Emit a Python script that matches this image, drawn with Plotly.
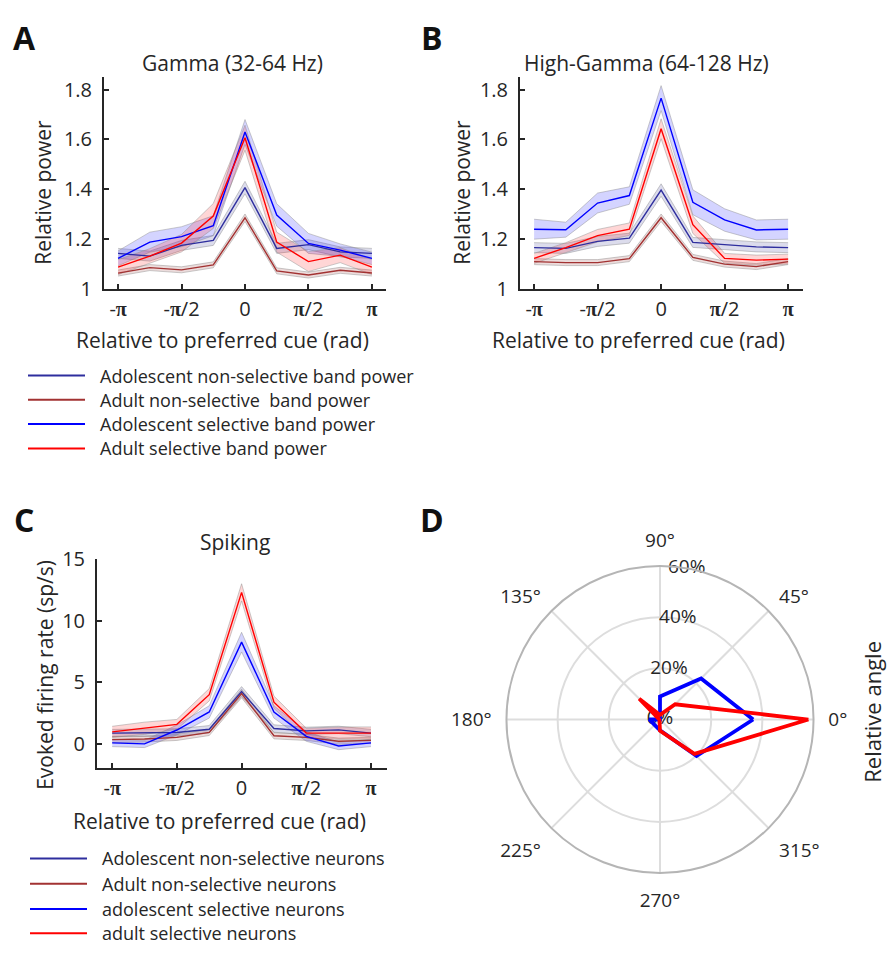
import numpy as np
import plotly.graph_objects as go

W, H = 893, 957
FONT = "Open Sans"
TXT = "#262626"

# ---------------- data ----------------
angles = [-np.pi, -3*np.pi/4, -np.pi/2, -np.pi/4, 0, np.pi/4, np.pi/2, 3*np.pi/4, np.pi]
tick_vals = [-np.pi, -np.pi/2, 0, np.pi/2, np.pi]
PI = '<b><span style="font-family:Liberation Serif;font-weight:bold">π</span></b>'
tick_text = ["-" + PI, "-" + PI + "/2", "0", PI + "/2", PI]

series_names_band = ["Adolescent non-selective band power", "Adult non-selective  band power",
                     "Adolescent selective band power", "Adult selective band power"]
series_names_spk = ["Adolescent non-selective neurons", "Adult non-selective neurons",
                    "adolescent selective neurons", "adult selective neurons"]
line_colors = ["#2e2e9e", "#a23232", "#0000ff", "#ff0000"]
band_colors = ["rgba(60,60,150,0.18)", "rgba(150,60,60,0.18)", "rgba(0,0,255,0.17)", "rgba(255,0,0,0.16)"]

# Panel A: Gamma (32-64 Hz)
gamma_adol_nonsel = [1.143, 1.132, 1.175, 1.195, 1.407, 1.163, 1.178, 1.149, 1.143]
gamma_adult_nonsel = [1.064, 1.086, 1.077, 1.097, 1.286, 1.073, 1.056, 1.075, 1.064]
gamma_adol_sel = [1.123, 1.188, 1.210, 1.254, 1.630, 1.297, 1.183, 1.156, 1.123]
gamma_adult_sel = [1.088, 1.132, 1.184, 1.293, 1.607, 1.188, 1.110, 1.136, 1.088]
gamma_adol_nonsel_err = [0.02, 0.02, 0.02, 0.02, 0.025, 0.02, 0.02, 0.02, 0.02]
gamma_adult_nonsel_err = [0.012, 0.012, 0.012, 0.012, 0.015, 0.012, 0.012, 0.012, 0.012]
gamma_adol_sel_err = [0.03, 0.04, 0.04, 0.04, 0.05, 0.045, 0.04, 0.025, 0.025]
gamma_adult_sel_err = [0.03, 0.03, 0.035, 0.05, 0.05, 0.04, 0.04, 0.03, 0.03]

# Panel B: High-Gamma (64-128 Hz)
hg_adol_nonsel = [1.166, 1.163, 1.191, 1.204, 1.397, 1.187, 1.178, 1.169, 1.166]
hg_adult_nonsel = [1.110, 1.106, 1.106, 1.122, 1.286, 1.127, 1.100, 1.090, 1.110]
hg_adol_sel = [1.240, 1.238, 1.345, 1.375, 1.766, 1.348, 1.277, 1.237, 1.240]
hg_adult_sel = [1.123, 1.166, 1.214, 1.240, 1.643, 1.258, 1.123, 1.116, 1.120]
hg_adol_nonsel_err = [0.02, 0.02, 0.02, 0.02, 0.025, 0.02, 0.02, 0.02, 0.02]
hg_adult_nonsel_err = [0.012, 0.012, 0.012, 0.012, 0.015, 0.012, 0.012, 0.012, 0.012]
hg_adol_sel_err = [0.04, 0.03, 0.04, 0.035, 0.05, 0.05, 0.045, 0.04, 0.04]
hg_adult_sel_err = [0.02, 0.02, 0.025, 0.025, 0.04, 0.035, 0.02, 0.02, 0.02]

# Panel C: Spiking
spk_adol_nonsel = [0.85, 0.90, 0.90, 1.16, 4.23, 1.22, 1.03, 1.11, 0.85]
spk_adult_nonsel = [0.32, 0.37, 0.50, 0.90, 4.07, 0.63, 0.50, 0.19, 0.26]
spk_adol_sel = [0.05, -0.03, 1.10, 2.57, 8.25, 2.57, 0.58, -0.20, 0.05]
spk_adult_sel = [0.95, 1.24, 1.56, 3.97, 12.30, 3.36, 0.85, 0.85, 0.85]
spk_adol_nonsel_err = [0.3, 0.3, 0.3, 0.3, 0.4, 0.3, 0.3, 0.3, 0.3]
spk_adult_nonsel_err = [0.25, 0.25, 0.25, 0.25, 0.35, 0.25, 0.25, 0.25, 0.25]
spk_adol_sel_err = [0.3, 0.3, 0.4, 0.5, 0.8, 0.5, 0.4, 0.3, 0.3]
spk_adult_sel_err = [0.45, 0.5, 0.4, 0.5, 0.7, 0.5, 0.4, 0.5, 0.5]

# Panel D: polar distribution of preferred angle (%)
polar_theta = [0, 45, 90, 135, 180, 225, 270, 315]
polar_adol = [36.4, 22.7, 9.0, 0.0, 4.2, 3.0, 4.2, 20.2]
polar_adult = [58.0, 8.4, 1.8, 11.5, 0.3, 0.3, 4.4, 19.0]
polar_tick_vals = [0, 20, 40, 60]
polar_label_angle = 80

# ---------------- helpers ----------------
def xd(a, b):
    return [a / W, b / W]

def yd(top, bottom):
    return [1 - bottom / H, 1 - top / H]

fig = go.Figure()

def add_panel(xa, ya, means, errs):
    for m, e, bc in zip(means, errs, band_colors):
        up = [v + d for v, d in zip(m, e)]
        lo = [v - d for v, d in zip(m, e)]
        fig.add_trace(go.Scatter(x=angles, y=up, mode="lines", xaxis=xa, yaxis=ya,
                                 line=dict(color="rgba(140,140,140,0.45)", width=1),
                                 showlegend=False, hoverinfo="skip"))
        fig.add_trace(go.Scatter(x=angles, y=lo, mode="lines", xaxis=xa, yaxis=ya,
                                 line=dict(color="rgba(140,140,140,0.45)", width=1),
                                 fill="tonexty", fillcolor=bc,
                                 showlegend=False, hoverinfo="skip"))
    for m, lc in zip(means, line_colors):
        fig.add_trace(go.Scatter(x=angles, y=m, mode="lines", xaxis=xa, yaxis=ya,
                                 line=dict(color=lc, width=1.4), showlegend=False))

add_panel("x", "y",
          [gamma_adol_nonsel, gamma_adult_nonsel, gamma_adol_sel, gamma_adult_sel],
          [gamma_adol_nonsel_err, gamma_adult_nonsel_err, gamma_adol_sel_err, gamma_adult_sel_err])
add_panel("x2", "y2",
          [hg_adol_nonsel, hg_adult_nonsel, hg_adol_sel, hg_adult_sel],
          [hg_adol_nonsel_err, hg_adult_nonsel_err, hg_adol_sel_err, hg_adult_sel_err])
add_panel("x3", "y3",
          [spk_adol_nonsel, spk_adult_nonsel, spk_adol_sel, spk_adult_sel],
          [spk_adol_nonsel_err, spk_adult_nonsel_err, spk_adol_sel_err, spk_adult_sel_err])

# radial tick labels (placed at their radii along the 80 degree direction), under the lines
fig.add_trace(go.Scatterpolar(r=polar_tick_vals, theta=[polar_label_angle] * len(polar_tick_vals),
                              mode="text", text=[f"{v}%" for v in polar_tick_vals],
                              textposition="middle center", cliponaxis=False,
                              textfont=dict(size=19, color=TXT, family=FONT),
                              subplot="polar", showlegend=False, hoverinfo="skip"))
fig.add_trace(go.Scatterpolar(r=polar_adol + polar_adol[:1], theta=polar_theta + polar_theta[:1],
                              mode="lines", line=dict(color="#0000ff", width=3.8),
                              subplot="polar", showlegend=False))
fig.add_trace(go.Scatterpolar(r=polar_adult + polar_adult[:1], theta=polar_theta + polar_theta[:1],
                              mode="lines", line=dict(color="#ff0000", width=3.8),
                              subplot="polar", showlegend=False))

# ---------------- axes ----------------
TICK_SIZE = 20
TITLE_SIZE = 21

def xaxis_style(dom, rng, anchor):
    return dict(domain=dom, range=rng, anchor=anchor, tickmode="array", tickvals=tick_vals, ticktext=tick_text,
                showline=True, linecolor=TXT, linewidth=2, ticks="inside", ticklen=5,
                tickwidth=1.5, tickcolor=TXT, showgrid=False, zeroline=False,
                tickfont=dict(size=TICK_SIZE, color=TXT, family=FONT), ticklabelstandoff=1)

def yaxis_style(dom, rng, tv, tt, anchor):
    return dict(domain=dom, range=rng, anchor=anchor, tickmode="array", tickvals=tv, ticktext=tt,
                showline=True, linecolor=TXT, linewidth=2, ticks="inside", ticklen=5,
                tickwidth=1.5, tickcolor=TXT, showgrid=False, zeroline=False,
                tickfont=dict(size=TICK_SIZE, color=TXT, family=FONT), ticklabelstandoff=6)

power_ticks = [1, 1.2, 1.4, 1.6, 1.8]
power_ticktext = ["1", "1.2", "1.4", "1.6", "1.8"]
rate_ticks = [0, 5, 10, 15]

fig.update_layout(
    xaxis=xaxis_style(xd(104, 386), [-3.49, 3.49], "y"),
    yaxis=yaxis_style(yd(65, 283), [1, 1.85], power_ticks, power_ticktext, "x"),
    xaxis2=xaxis_style(xd(520, 803), [-3.49, 3.51], "y2"),
    yaxis2=yaxis_style(yd(65, 283), [1, 1.85], power_ticks, power_ticktext, "x2"),
    xaxis3=xaxis_style(xd(97, 387), [-3.51, 3.53], "y3"),
    yaxis3=yaxis_style(yd(561, 776), [-2, 15], rate_ticks, [str(v) for v in rate_ticks], "x3"),
)

fig.update_layout(
    polar=dict(
        domain=dict(x=xd(502, 818), y=yd(568, 884)),
        bgcolor="white",
        angularaxis=dict(rotation=0, direction="counterclockwise", tickmode="array",
                         tickvals=polar_theta, ticktext=[f"{t}°" for t in polar_theta],
                         showline=True, linecolor="#b5b5b5", linewidth=2,
                         gridcolor="#dddddd", gridwidth=1.5, ticks="outside", ticklen=10,
                         tickcolor="rgba(0,0,0,0)",
                         tickfont=dict(size=19, color=TXT, family=FONT)),
        radialaxis=dict(range=[0, 60], tickmode="array", tickvals=polar_tick_vals,
                        showticklabels=False, angle=polar_label_angle,
                        showline=False, gridcolor="#dddddd", gridwidth=1.5, ticks=""),
    )
)

# ---------------- annotations ----------------
ann = []
def txt(x, y, s, size=19, bold=False, angle=0, xanchor="center"):
    ann.append(dict(x=x / W, y=1 - y / H, xref="paper", yref="paper", text=("<b>%s</b>" % s) if bold else s,
                    showarrow=False, xanchor=xanchor, yanchor="middle", textangle=angle,
                    font=dict(size=size, color="#111111" if bold else TXT, family=FONT)))

txt(24, 24, "A", size=32, bold=True)
txt(432, 24, "B", size=32, bold=True)
txt(24, 520, "C", size=32, bold=True)
txt(432, 520, "D", size=32, bold=True)
txt(232, 50, "Gamma (32-64 Hz)", size=21)
txt(646, 50, "High-Gamma (64-128 Hz)", size=21)
txt(235, 543, "Spiking", size=21)
txt(872, 718, "Relative angle", size=22, angle=-90)

XT = "Relative to preferred cue (rad)"
txt(222, 335, XT, size=TITLE_SIZE)
txt(638, 335, XT, size=TITLE_SIZE)
txt(219, 830, XT, size=TITLE_SIZE)
txt(43, 184, "Relative power", size=TITLE_SIZE, angle=-90)
txt(462, 184, "Relative power", size=TITLE_SIZE, angle=-90)
txt(45, 680, "Evoked firing rate (sp/s)", size=TITLE_SIZE, angle=-90)

shapes = []
def legend_block(x0, x1, xt, ys, names):
    for yy, nm, lc in zip(ys, names, line_colors):
        shapes.append(dict(type="line", xref="paper", yref="paper", x0=x0 / W, x1=x1 / W,
                           y0=1 - yy / H, y1=1 - yy / H, line=dict(color=lc, width=2)))
        txt(xt, yy, nm, size=18, xanchor="left")

legend_block(28, 85, 98, [372, 397, 422, 447], series_names_band)
legend_block(30, 87, 100, [869, 895, 921, 946], series_names_spk)

fig.update_layout(annotations=ann, shapes=shapes, width=W, height=H,
                  margin=dict(l=0, r=0, t=0, b=0), paper_bgcolor="white", plot_bgcolor="white",
                  showlegend=False, font=dict(family=FONT, color=TXT))

fig.write_html("out.html")
